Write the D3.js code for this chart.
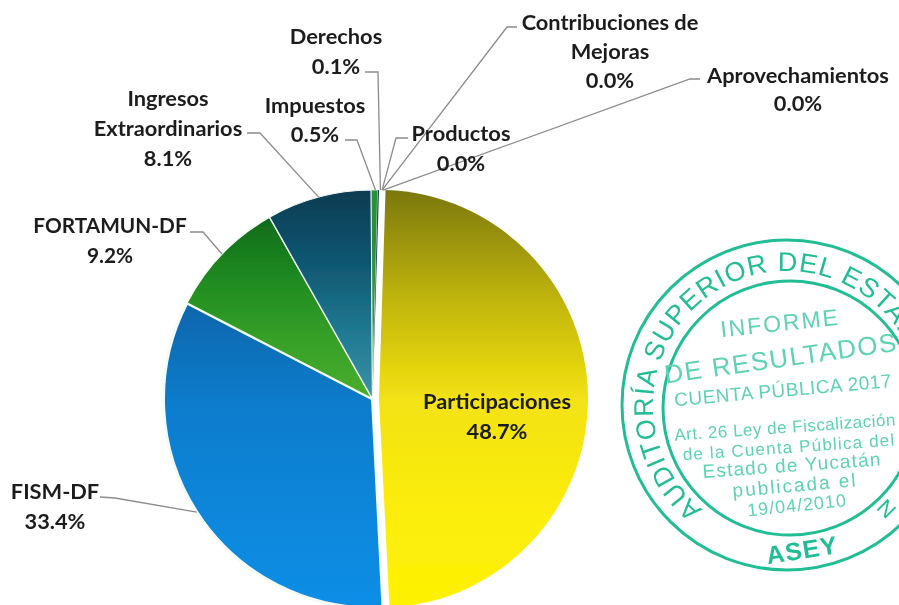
<!DOCTYPE html>
<html><head><meta charset="utf-8">
<script src="https://cdn.jsdelivr.net/npm/d3@7"></script>
<style>html,body{margin:0;padding:0;background:#fff;overflow:hidden}svg{display:block}</style>
</head><body><svg id="c" width="899" height="605"></svg>
<script>
// ---- data ----
const categories = ["Participaciones","FISM-DF","FORTAMUN-DF","Ingresos Extraordinarios","Impuestos","Derechos","Productos","Contribuciones de Mejoras","Aprovechamientos"];
const values = [48.7,33.4,9.2,8.1,0.5,0.1,0.0,0.0,0.0];
const labelLines = [["Participaciones"],["FISM-DF"],["FORTAMUN-DF"],["Ingresos","Extraordinarios"],["Impuestos"],["Derechos"],["Productos"],["Contribuciones de","Mejoras"],["Aprovechamientos"]];
const gradientStops = [["#7b780a","#bdb20e","#f3e212","#fbec10","#fff200"],["#0c66ac","#0a7ccc","#0a86da","#0c8ee6"],["#0f6a1c","#1f8a20","#36a028","#4aae2c"],["#0a3c52","#0f5570","#1f7890","#3a93a8"],["#2c8f3c","#2c8f3c","#3a9a44","#3a9a44"],["#173f5f","#173f5f","#1d5070","#1d5070"],["#888","#888","#888","#888"],["#888","#888","#888","#888"],["#888","#888","#888","#888"]];
const stampRingText = "AUDITORÍA SUPERIOR DEL ESTAD";
const stampLines = ["INFORME","DE RESULTADOS","CUENTA PÚBLICA 2017","Art. 26 Ley de Fiscalización","de la Cuenta Pública del","Estado de Yucatán","publicada el","19/04/2010","ASEY"];

// ---- layout ----
const cx = 372.5, cy = 399, R = 209, explode = 6.5, startDeg = 1.8;
const labelCenterX = [497,55,110,168,315,336,461,610,798];
const labelFirstY  = [401,491,226,98,105,36,133,22,75];
const labelSize = [21.8,21.8,20.8,21.8,21.8,21.8,21.8,21.8,21.8];
const lineGap = [30,30,30,30,29,30,30,29,28];
const leaderStart = [null,[100,497],[190,232],[247,133],[345,140],[365,72],[408,138],[517,27],[700,79]];
const leaderElbow = [null,[115,498],[203,232],[260,133],[357,140],[378,72],[396,138],[507,27],[690,79]];
const leaderNudge = [0,0,0,0,1,2,3,3,4];
const strokeW = [0,3,1.6,1.2,0.8,0,0,0,0];
const stampLineX = [780,781,783,785,789,792,795,797,802];
const stampLineY = [323,358,390,427,447,465,485,505,550];
const stampLineSize = [23,26,19,17,17,19,19,18,25];
const stampLineRot = [-6,-8,-5,-4,-4,-4,-5,-6,-9];
const stampLineSpacing = [2,1.5,0.5,0.5,1.2,1.2,2,1,1];

const svg = d3.select("#c");
const defs = svg.append("defs");
const soft = defs.append("filter").attr("id","soft").attr("x","-5%").attr("y","-5%").attr("width","110%").attr("height","110%");
soft.append("feGaussianBlur").attr("stdDeviation",0.45);
const soft2 = defs.append("filter").attr("id","soft2").attr("x","-5%").attr("y","-5%").attr("width","110%").attr("height","110%");
soft2.append("feGaussianBlur").attr("stdDeviation",0.7);

categories.forEach((c,i)=>{
  const g = defs.append("linearGradient").attr("id","g"+i).attr("x1",0).attr("y1",0).attr("x2",0).attr("y2",1);
  gradientStops[i].forEach((col,k)=>g.append("stop").attr("offset",k/(gradientStops[i].length-1)).attr("stop-color",col));
});

const rad = d3.scaleLinear().domain([0,360]).range([0,2*Math.PI]);
const pie = d3.pie().sort(null).startAngle(rad(startDeg)).endAngle(rad(startDeg+360)).value(d=>d);
const arcs = pie(values);
const arc = d3.arc().innerRadius(0).outerRadius(R);
const edge = d3.arc().innerRadius(R).outerRadius(R);

const root = svg.append("g").attr("filter","url(#soft)");
const pieG = root.append("g").attr("transform",`translate(${cx},${cy})`);
const offset = (d,i)=> {
  if(i!==0) return [0,0];
  const m=(d.startAngle+d.endAngle)/2;
  return [explode*Math.sin(m),-explode*Math.cos(m)];
};
pieG.selectAll("path.slice").data(arcs).join("path").attr("class","slice")
  .filter(d=>d.value>0)
  .attr("d",arc)
  .attr("transform",(d)=>{const o=offset(d,d.index);return `translate(${o[0]},${o[1]})`;})
  .attr("fill",d=>`url(#g${d.index})`)
  .attr("stroke","#f2fbf4")
  .attr("stroke-linejoin","round")
  .attr("stroke-width",d=>strokeW[d.index]);

const line = d3.line();
const leaderG = root.append("g").attr("fill","none").attr("stroke","#8b8b8b").attr("stroke-width",1.3);
arcs.forEach((d,i)=>{
  if(!leaderStart[i]) return;
  const p = edge.centroid(d);
  leaderG.append("path").attr("d",line([leaderStart[i],leaderElbow[i],[cx+p[0]+leaderNudge[i],cy+p[1]]]));
});

const textG = root.append("g").attr("font-family","Lato, 'Open Sans', sans-serif").attr("font-weight",700).attr("fill","#1c1c1c").attr("text-anchor","middle");
categories.forEach((c,i)=>{
  const lines = labelLines[i].concat([values[i].toFixed(1)+"%"]);
  const t = textG.append("text").attr("font-size",labelSize[i]);
  lines.forEach((s,k)=>t.append("tspan").attr("x",labelCenterX[i]).attr("y",labelFirstY[i]+k*lineGap[i]).attr("dy","0.35em").text(s));
});

// stamp
const scx=787, scy=405;
const st = svg.append("g").attr("filter","url(#soft2)").attr("fill","#3cc8a2").attr("font-family","'Liberation Sans', sans-serif");
st.append("circle").attr("cx",scx).attr("cy",scy).attr("r",165).attr("fill","none").attr("stroke","#22bd95").attr("stroke-width",3);
st.append("circle").attr("cx",scx+3).attr("cy",scy+3).attr("r",127).attr("fill","none").attr("stroke","#22bd95").attr("stroke-width",3);
const ringArc = d3.path();
ringArc.arc(scx,scy,134,rad(-141-90),rad(120-90));
defs.append("path").attr("id","ringPath").attr("d",ringArc.toString());
st.append("text").attr("font-size",27).attr("letter-spacing",1).attr("fill","#22bd95")
  .append("textPath").attr("href","#ringPath").text(stampRingText);
stampLines.forEach((s,i)=>{
  st.append("text").attr("text-anchor","middle")
    .attr("transform",`translate(${stampLineX[i]},${stampLineY[i]}) rotate(${stampLineRot[i]})`)
    .attr("dy","0.35em")
    .attr("font-size",stampLineSize[i])
    .attr("letter-spacing",stampLineSpacing[i])
    .attr("fill", i===8?"#22bd95":"#5fd2b4")
    .attr("font-weight", i===8?700:400)
    .text(s);
});
st.append("text").attr("transform",`translate(881,514) rotate(45)`).attr("font-size",22).attr("text-anchor","middle").attr("fill","#22bd95").text("N");
</script></body></html>
